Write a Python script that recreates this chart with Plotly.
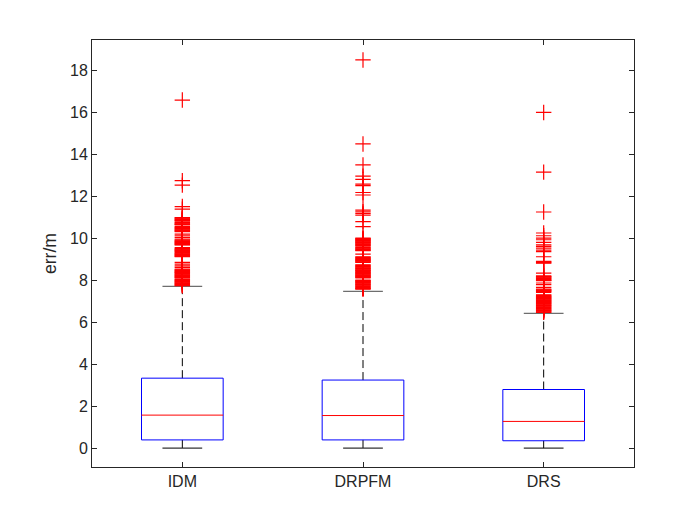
import plotly.graph_objects as go

categories = ["IDM", "DRPFM", "DRS"]
q1 = [0.39, 0.39, 0.35]
median = [1.57, 1.55, 1.27]
q3 = [3.33, 3.24, 2.79]
lower_whisker = [0.0, 0.0, 0.0]
upper_whisker = [7.70, 7.46, 6.41]

idm_outliers = [16.57, 12.73, 12.52, 11.50, 11.38,
                10.98, 10.95, 10.92, 10.89, 10.86, 10.83, 10.81,
                10.74, 10.71, 10.68, 10.65, 10.63,
                10.54, 10.51, 10.48, 10.45, 10.42, 10.39, 10.36, 10.33, 10.31,
                10.19, 10.11, 10.03, 9.95,
                9.90, 9.87, 9.84, 9.81, 9.78, 9.75, 9.72, 9.69, 9.67,
                9.55,
                9.50, 9.47, 9.44, 9.41, 9.38, 9.36,
                9.31, 9.28, 9.25, 9.22, 9.19, 9.16, 9.13, 9.11,
                8.84, 8.76, 8.68, 8.60,
                8.52, 8.49, 8.46, 8.43, 8.40, 8.37, 8.35,
                8.31, 8.28, 8.25, 8.22, 8.19, 8.16, 8.13, 8.10,
                8.05, 8.02, 7.99, 7.96, 7.93, 7.90, 7.87, 7.84, 7.81, 7.78, 7.75, 7.73]

drpfm_outliers = [18.48, 14.48, 13.48, 12.95, 12.79, 12.57, 12.50, 12.17, 12.05,
                  11.33, 11.25, 11.17, 11.09, 10.78, 10.54,
                  10.00, 9.97, 9.94, 9.91, 9.88, 9.85, 9.82, 9.79, 9.76, 9.73, 9.70,
                  9.67, 9.64, 9.61, 9.55, 9.52, 9.49, 9.46, 9.43, 9.40,
                  9.24,
                  9.11, 9.08, 9.05, 9.02, 8.99, 8.96, 8.93, 8.90, 8.87, 8.84,
                  8.73, 8.70, 8.67, 8.64, 8.61, 8.58, 8.55, 8.52, 8.49, 8.46, 8.44,
                  8.40, 8.37, 8.34, 8.31, 8.28, 8.25, 8.22, 8.19, 8.16, 8.13, 8.10,
                  8.00, 7.97, 7.94, 7.91, 7.88, 7.85, 7.82, 7.79, 7.76, 7.73, 7.70,
                  7.67, 7.64, 7.61, 7.59, 7.57]

drs_outliers = [15.98, 13.14, 11.24, 10.24, 10.11, 10.00, 9.92, 9.79, 9.68, 9.60,
                9.52, 9.43, 9.35, 9.11, 8.89, 8.86, 8.83, 8.80, 8.33, 8.20, 8.17,
                8.14, 8.11, 8.08, 8.05, 8.02, 7.99, 7.97, 7.86, 7.78, 7.65, 7.57,
                7.54, 7.51, 7.48, 7.46, 7.41,
                7.30, 7.27, 7.24, 7.21, 7.18, 7.15, 7.12, 7.09, 7.06, 7.03, 7.00,
                6.97, 6.94, 6.91, 6.88, 6.85, 6.82, 6.79, 6.76, 6.73, 6.70, 6.67,
                6.64, 6.61, 6.58, 6.55, 6.52, 6.49, 6.46]

outliers = [idm_outliers, drpfm_outliers, drs_outliers]

y_ticks = [0, 2, 4, 6, 8, 10, 12, 14, 16, 18]
y_range = [-0.9, 19.43]
x_range = [0.5, 3.5]

box_half = 0.226
cap_half = 0.11

fig = go.Figure()

for i, name in enumerate(categories):
    x = i + 1
    # whiskers (dashed)
    fig.add_trace(go.Scatter(x=[x, x, None, x, x],
                             y=[q3[i], upper_whisker[i], None, q1[i], lower_whisker[i]],
                             mode="lines", line=dict(color="black", width=1, dash="8px,4px"),
                             hoverinfo="skip", showlegend=False))
    # caps
    fig.add_trace(go.Scatter(x=[x - cap_half, x + cap_half],
                             y=[upper_whisker[i], upper_whisker[i]],
                             mode="lines", line=dict(color="#6e6e6e", width=1.2),
                             hoverinfo="skip", showlegend=False))
    fig.add_trace(go.Scatter(x=[x - cap_half, x + cap_half],
                             y=[lower_whisker[i], lower_whisker[i]],
                             mode="lines", line=dict(color="black", width=1),
                             hoverinfo="skip", showlegend=False))
    # box
    fig.add_trace(go.Scatter(x=[x - box_half, x + box_half, x + box_half, x - box_half, x - box_half],
                             y=[q1[i], q1[i], q3[i], q3[i], q1[i]],
                             mode="lines", line=dict(color="#0000ff", width=1),
                             hoverinfo="skip", showlegend=False))
    # median
    fig.add_trace(go.Scatter(x=[x - box_half, x + box_half],
                             y=[median[i], median[i]],
                             mode="lines", line=dict(color="#ff0000", width=1),
                             hoverinfo="skip", showlegend=False))
    # outliers
    fig.add_trace(go.Scatter(x=[x] * len(outliers[i]), y=outliers[i],
                             mode="markers",
                             marker=dict(symbol="cross-thin", size=11,
                                         line=dict(color="#ff0000", width=1.2)),
                             hoverinfo="skip", showlegend=False))

axis_color = "#262626"
fig.update_layout(
    width=700, height=525, autosize=False,
    margin=dict(l=84, r=74, t=32, b=66, pad=0),
    paper_bgcolor="white", plot_bgcolor="white",
    font=dict(family="Liberation Sans, Arial, sans-serif", size=16, color=axis_color),
    showlegend=False,
)
fig.update_xaxes(range=x_range, tickmode="array", tickvals=[1, 2, 3], ticktext=categories,
                 showgrid=False, zeroline=False, showline=True, linecolor=axis_color,
                 linewidth=1, mirror="ticks", ticks="inside", ticklen=5,
                 tickcolor=axis_color, tickfont=dict(size=16, color=axis_color))
fig.update_yaxes(range=y_range, tickmode="array", tickvals=y_ticks,
                 ticktext=[str(v) for v in y_ticks],
                 showgrid=False, zeroline=False, showline=True, linecolor=axis_color,
                 linewidth=1, mirror="ticks", ticks="inside", ticklen=5,
                 tickcolor=axis_color, tickfont=dict(size=16, color=axis_color),
                 title=dict(text="err/m", font=dict(size=17.6, color=axis_color), standoff=8))

fig.write_html("out.html")
